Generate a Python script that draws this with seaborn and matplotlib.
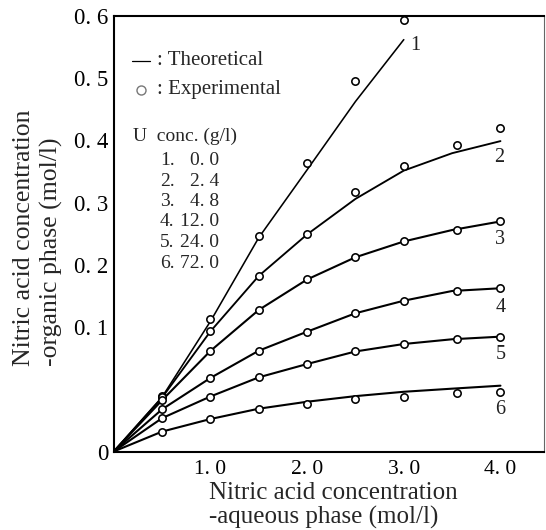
import numpy as np
import pandas as pd
import matplotlib
matplotlib.use("Agg")
import matplotlib.pyplot as plt
import seaborn as sns

# ---- data -------------------------------------------------------------
# aqueous HNO3 (mol/l) at which the model curves are tabulated
x_model = [0.0, 0.5, 1.0, 1.5, 2.0, 2.5, 3.0, 3.5, 4.0]
# organic HNO3 (mol/l), theoretical curves 1-6
model_1 = [0.0, 0.0437, 0.1091, 0.2437, 0.3527, 0.4625, 0.5620]
model_2 = [0.0, 0.0433, 0.0965, 0.1822, 0.2489, 0.3060, 0.3515, 0.3795, 0.3989]
model_3 = [0.0, 0.0412, 0.0808, 0.1275, 0.1765, 0.2122, 0.2376, 0.2560, 0.2698]
model_4 = [0.0, 0.0339, 0.0591, 0.0810, 0.0963, 0.1222, 0.1424, 0.1580, 0.1624]
model_5 = [0.0, 0.0268, 0.0442, 0.0596, 0.0703, 0.0804, 0.0864, 0.0902, 0.0923]
model_6 = [0.0, 0.0160, 0.0261, 0.0344, 0.0400, 0.0445, 0.0480, 0.0505, 0.0529]

# measured points
x_exp = [0.5, 1.0, 1.5, 2.0, 2.5, 3.0, 3.55, 4.0]
exp_1 = [0.0449, 0.1130, 0.2465, 0.3630, 0.4957, 0.5929]
exp_2 = [0.0437, 0.0965, 0.1822, 0.2489, 0.3164, 0.3590, 0.3932, 0.4196]
exp_3 = [0.0412, 0.0808, 0.1275, 0.1765, 0.2122, 0.2376, 0.2566, 0.2698]
exp_4 = [0.0339, 0.0591, 0.0810, 0.0963, 0.1222, 0.1424, 0.1585, 0.1624]
exp_5 = [0.0268, 0.0442, 0.0596, 0.0703, 0.0804, 0.0864, 0.0902, 0.0923]
exp_6 = [0.0160, 0.0261, 0.0344, 0.0382, 0.0420, 0.0441, 0.0473, 0.0478]

curve_ids = ["1", "2", "3", "4", "5", "6"]
u_conc = [0.0, 2.4, 4.8, 12.0, 24.0, 72.0]   # uranium, g/l

x_ticks = [1.0, 2.0, 3.0, 4.0]
x_tick_labels = ["1. 0", "2. 0", "3. 0", "4. 0"]
y_ticks = [0.0, 0.05, 0.1, 0.2, 0.3, 0.4, 0.5, 0.6]
y_tick_labels = ["0", "", "0. 1", "0. 2", "0. 3", "0. 4", "0. 5", "0. 6"]

models = [model_1, model_2, model_3, model_4, model_5, model_6]
exps = [exp_1, exp_2, exp_3, exp_4, exp_5, exp_6]

model_df = pd.concat(
    [pd.DataFrame({"curve": cid, "aq": x_model[:len(v)], "org": v})
     for cid, v in zip(curve_ids, models)], ignore_index=True)
exp_df = pd.concat(
    [pd.DataFrame({"curve": cid, "aq": x_exp[:len(v)], "org": v})
     for cid, v in zip(curve_ids, exps)], ignore_index=True)

# ---- style ------------------------------------------------------------
sns.set_style("white")
plt.rcParams["font.family"] = ["Liberation Serif", "DejaVu Serif"]

W, H = 546, 530
fig = plt.figure(figsize=(W / 100, H / 100), dpi=100)
ax = fig.add_axes([113.7 / W, 1 - 451.5 / H, (543.5 - 113.7) / W, (451.5 - 16) / H])

# ordinate: lower decade (0-0.1) drawn at double scale
def fwd(y):
    y = np.asarray(y, dtype=float)
    return np.where(y <= 0.1, 2.0 * y, y + 0.1)

def inv(t):
    t = np.asarray(t, dtype=float)
    return np.where(t <= 0.2, t / 2.0, t - 0.1)

ax.set_yscale("function", functions=(fwd, inv))

line_w = {"1": 1.15, "2": 1.35, "3": 1.5, "4": 1.5, "5": 1.5, "6": 1.5}
for cid in curve_ids:
    sub = model_df[model_df["curve"] == cid]
    sns.lineplot(data=sub, x="aq", y="org", ax=ax, color="black",
                 linewidth=line_w[cid], estimator=None, sort=True, legend=False)

sns.scatterplot(data=exp_df, x="aq", y="org", ax=ax, marker="o", s=28,
                facecolor="white", edgecolor="black", linewidth=1.15,
                zorder=4, legend=False)

ax.set_xlim(0, 4.445)
ax.set_ylim(0, 0.6)
ax.set_xlabel("")
ax.set_ylabel("")

ax.set_xticks(x_ticks)
ax.set_xticklabels(x_tick_labels, fontsize=15.5)
ax.set_yticks(y_ticks)
ax.set_yticklabels(y_tick_labels, fontsize=16.5)
ax.yaxis.set_minor_locator(matplotlib.ticker.NullLocator())
ax.xaxis.set_minor_locator(matplotlib.ticker.NullLocator())
ax.tick_params(axis="y", direction="in", length=8, width=1.3, pad=4, colors="black")
ax.tick_params(axis="x", direction="in", length=4, width=1.0, pad=6, colors="black")

for side in ("left", "bottom", "top"):
    ax.spines[side].set_color("black")
    ax.spines[side].set_linewidth(1.5)
ax.spines["right"].set_color("#666666")
ax.spines["right"].set_linewidth(0.8)

# curve numbers next to the curve ends
label_offsets = {"1": (12, -6), "2": (-1, -16), "3": (0, -18), "4": (0, -19),
                 "5": (0, -18), "6": (0, -24)}
for cid, v in zip(curve_ids, models):
    ax.annotate(cid, xy=(x_model[len(v) - 1], v[-1]), xytext=label_offsets[cid],
                textcoords="offset pixels", ha="center", va="center",
                fontsize=14.5, color="#222222")

# key
tr = ax.transAxes
ax.plot([0.0426, 0.0845], [0.8967, 0.8967], transform=tr, color="black", lw=0.9)
ax.text(0.100, 0.8967, ": Theoretical", transform=tr, fontsize=15, va="center", ha="left")
ax.plot([0.063], [0.8307], transform=tr, marker="o", ms=6.5, mfc="white",
        mec="#777777", mew=1.0, linestyle="none")
ax.text(0.100, 0.8307, ": Experimental", transform=tr, fontsize=15, va="center", ha="left")
ax.text(0.044, 0.7229, "U  conc. (g/l)", transform=tr, fontsize=14, va="center", ha="left")
row_y = [0.6693, 0.6211, 0.5748, 0.5289, 0.4807, 0.4324]
for cid, u, yy in zip(curve_ids, u_conc, row_y):
    ax.text(0.1077, yy, cid + ".", transform=tr, fontsize=14, va="center", ha="left")
    ax.text(0.2457, yy, f"{u:.1f}".replace(".", ". "), transform=tr, fontsize=14,
            va="center", ha="right")

# axis titles
fig.text(38 / W, 1 - 366 / H, "Nitric acid concentration\n-organic phase (mol/l)",
         rotation=90, ha="center", va="bottom", multialignment="left",
         fontsize=18.5, linespacing=1.25)
fig.text(209 / W, 1 - 482 / H, "Nitric acid concentration\n-aqueous phase (mol/l)",
         ha="left", va="top", multialignment="left", fontsize=18, linespacing=1.08)

fig.savefig("out.png", dpi=100, facecolor="white")
